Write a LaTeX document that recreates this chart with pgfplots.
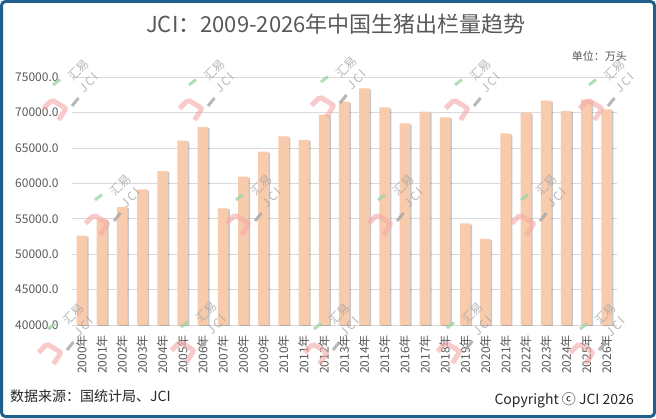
\documentclass[border=0pt]{standalone}
\usepackage{fontspec}
\setmainfont{Noto Sans CJK SC}
\usepackage{pgfplots}
\usepackage{pgfplotstable}
\pgfplotsset{compat=1.18}
\definecolor{barc}{HTML}{F8CBAD}
\definecolor{gridc}{HTML}{D9D9D9}
\definecolor{txt}{HTML}{595959}
\definecolor{framec}{HTML}{1F5F8B}
\definecolor{wmpink}{HTML}{F6A8A8}
\definecolor{wmgreen}{HTML}{9FD6A6}
\definecolor{wmgray}{HTML}{A6A6A6}

\pgfplotstableread{
x y
0 52620
1 54935
2 56673
3 59174
4 61760
5 66042
6 67977
7 56490
8 60955
9 64487
10 66663
11 66141
12 69720
13 71552
14 73446
15 70761
16 68500
17 70139
18 69348
19 54370
20 52152
21 67087
22 69998
23 71694
24 70238
25 71835
26 70478
}\hogdata

\newcommand\wm[2]{%
\begin{scope}[shift={(#1,#2)}]
 \draw[wmpink, line width=5pt, opacity=0.6, rounded corners=2pt, line cap=butt] (-8.5,-8.5) -- (0,0) -- (14,-8.5) -- (6.5,-20);
 \draw[wmgreen, line width=3pt, opacity=0.8] (1,15) -- (8,20.5);
 \draw[wmgray, line width=3pt, opacity=0.8] (20,-6) -- (26.5,2);
 \node[rotate=45, text=wmgray, opacity=0.8, font=\fontsize{12}{12}\selectfont, inner sep=0pt] at (26.7,30) {汇易};
 \node[rotate=45, text=wmgray, opacity=0.8, font=\fontsize{12}{12}\selectfont, inner sep=0pt] at (36.7,17) {J\,C\,I};
\end{scope}}

\begin{document}
\begin{tikzpicture}[x=1pt,y=1pt]
\useasboundingbox (0,0) rectangle (656,418);
\fill[white] (0,0) rectangle (656,418);
\begin{axis}[
  at={(71.7pt,93pt)}, anchor=south west,
  scale only axis, width=545pt, height=247.7pt,
  xmin=-0.5, xmax=26.5, ymin=40000, ymax=75000,
  enlargelimits=false,
  scaled y ticks=false,
  axis line style={draw=none},
  tick style={draw=none}, major tick length=0pt,
  ymajorgrids, grid style={gridc, line width=0.9pt},
  ytick={40000,45000,...,75000},
  yticklabels={40000.0,45000.0,50000.0,55000.0,60000.0,65000.0,70000.0,75000.0},
  xtick={0,...,26},
  xticklabels={2000年,2001年,2002年,2003年,2004年,2005年,2006年,2007年,2008年,2009年,2010年,2011年,2012年,2013年,2014年,2015年,2016年,2017年,2018年,2019年,2020年,2021年,2022年,2023年,2024年,2025年,2026年},
  /pgf/number format/assume math mode=true,
  ticklabel style={text=txt, font=\fontsize{12}{12}\selectfont, inner sep=0pt},
  yticklabel style={anchor=east},
  xticklabel style={rotate=90, anchor=east},
  yticklabel shift=13pt,
  xticklabel shift=10pt,
]
\addplot[ybar, bar width=10.5pt, bar shift=1.5pt, fill=black, fill opacity=0.22, draw=none, yshift=-1.2pt] table[x=x,y=y] {\hogdata};
\addplot[ybar, bar width=10.5pt, bar shift=0pt, fill=barc, draw=none] table[x=x,y=y] {\hogdata};
\end{axis}
% watermarks
\wm{52}{318}\wm{188}{318}\wm{320}{321}\wm{454}{318}\wm{588}{318}
\wm{94}{203}\wm{235}{203}\wm{377}{203}\wm{520}{203}
\wm{47}{74}\wm{180}{76}\wm{313}{74}\wm{446}{75}\wm{579}{74}
% texts
\node[anchor=base, text=txt, font=\fontsize{22}{26}\selectfont, inner sep=0pt] at (336,385) {JCI：2009-2026年中国生猪出栏量趋势};
\node[anchor=base east, text=txt, font=\fontsize{11}{12}\selectfont, inner sep=0pt] at (627,357) {单位：万头};
\node[anchor=base west, text=black!85, font=\fontsize{14}{14}\selectfont, inner sep=0pt] at (10,16.3) {数据来源：国统计局、JCI};
\node[anchor=base east, text=black!85, font=\fontsize{14}{14}\selectfont, inner sep=0pt] at (634,14) {Copyright ⓒ JCI 2026};
% frame
\draw[framec, line width=3pt, rounded corners=4pt] (1.5,1.5) rectangle (654.5,416.5);
\end{tikzpicture}
\end{document}
